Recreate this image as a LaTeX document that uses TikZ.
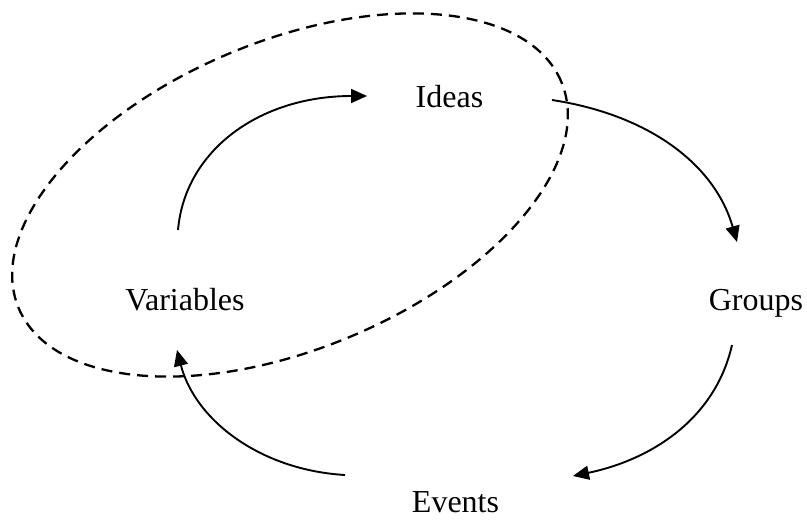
\documentclass[tikz,border=0pt]{standalone}
\usepackage{fontspec}
\setmainfont{Liberation Serif}
\usetikzlibrary{arrows.meta}
\begin{document}
\begin{tikzpicture}[x=1pt,y=-1pt,
  lbl/.style={inner sep=0pt, outer sep=0pt, anchor=base, font=\fontsize{32}{38}\selectfont},
  flow/.style={line width=1.9pt, -{Triangle[length=16pt,width=14pt]}},
  groupline/.style={line width=2.3pt, dash pattern=on 11pt off 7pt}]
\useasboundingbox (0,0) rectangle (807,520);
\node[lbl] (ideas) at (449.5,107) {Ideas};
\node[lbl] (variables) at (185,310) {Variables};
\node[lbl] (groups) at (756,310) {Groups};
\node[lbl] (events) at (455.5,512) {Events};
% dashed grouping ellipse
\draw[groupline, rotate around={22.6:(290,195)}] (290,195) ellipse [x radius=294pt, y radius=154pt];
% cycle arrows
\draw[flow] ([shift={(-7,-80)}]variables.base) .. controls +(7,-80) and +(-107,0) .. ([shift={(-82.5,-11)}]ideas.base);
\draw[flow] ([shift={(102.5,-7)}]ideas.base) .. controls +(98,15) and +(-22,-77) .. ([shift={(-19,-68)}]groups.base);
\draw[flow] ([shift={(-24,35)}]groups.base) .. controls +(-17,75) and +(77,-16) .. ([shift={(117.5,-36)}]events.base);
\draw[flow] ([shift={(-110.5,-37)}]events.base) .. controls +(-85,-5) and +(18,70) .. ([shift={(-8,40)}]variables.base);
\end{tikzpicture}
\end{document}
